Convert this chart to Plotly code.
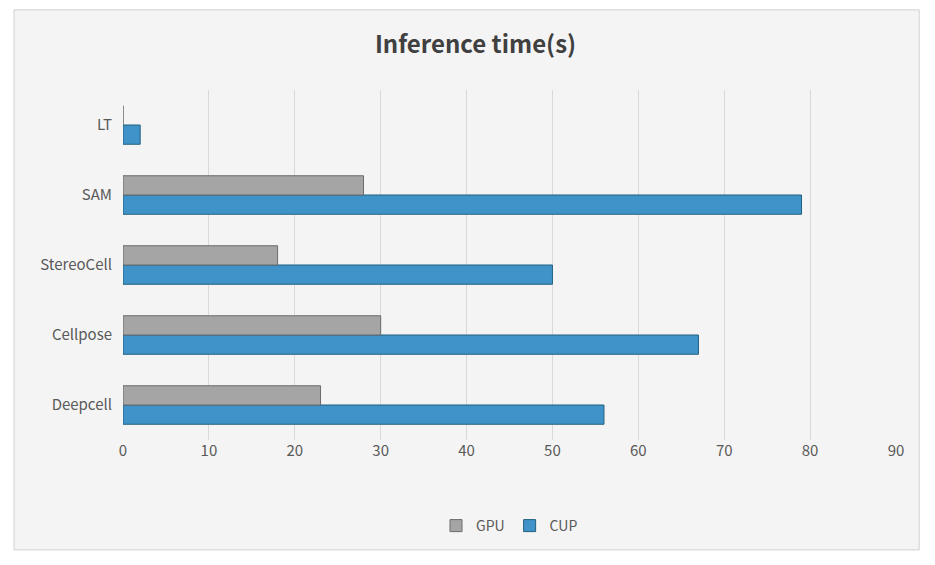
import plotly.graph_objects as go

models = ["Deepcell", "Cellpose", "StereoCell", "SAM", "LT"]
gpu = [23, 30, 18, 28, 0]
cup = [56, 67, 50, 79, 2]

fig = go.Figure()
fig.add_trace(go.Bar(y=models, x=cup, name="CUP", orientation="h",
                     marker=dict(color="#3f93c8", line=dict(color="#22607f", width=1))))
fig.add_trace(go.Bar(y=models, x=gpu, name="GPU", orientation="h",
                     marker=dict(color="#a5a5a5", line=dict(color="#6b6b6b", width=1))))

fig.update_layout(
    width=935, height=565,
    paper_bgcolor="white", plot_bgcolor="#f4f4f4",
    font=dict(family="Noto Sans CJK SC, Noto Sans", color="#595959", size=15),
    title=dict(text="<b>Inference time(s)</b>", x=0.5, y=0.95, xanchor="center",
               font=dict(size=24, color="#404040")),
    barmode="group", bargap=0.45, bargroupgap=0.0,
    margin=dict(l=115, r=47, t=82, b=133),
    legend=dict(orientation="h", x=0.5, xanchor="center", y=-0.2, yanchor="top",
                traceorder="reversed", font=dict(size=14),
                bgcolor="rgba(0,0,0,0)"),
    xaxis=dict(range=[0, 90], dtick=10, showgrid=True, gridcolor="#d9d9d9",
               zeroline=False, ticks="", showline=False),
    yaxis=dict(showgrid=False, ticks="", ticklabelstandoff=10),
    shapes=[dict(type="rect", xref="paper", yref="paper", layer="below",
                 x0=-0.141, x1=1.03, y0=-0.314, y1=1.229,
                 fillcolor="#f4f4f4", line=dict(color="#d0d0d0", width=1))],
)

fig.write_html("out.html")
